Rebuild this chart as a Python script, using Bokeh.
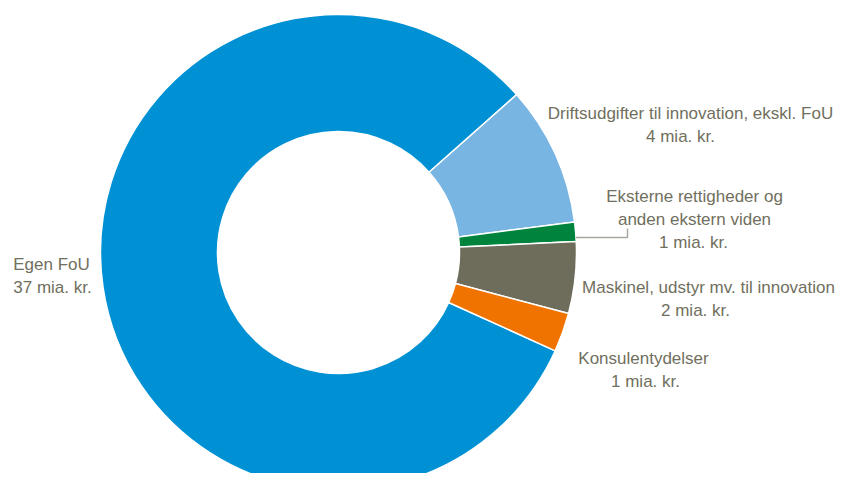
import numpy as np
from bokeh.plotting import figure
from bokeh.models import Range1d, ColumnDataSource
from bokeh.embed import file_html
from bokeh.resources import INLINE
from bokeh.core.properties import value

# ---------------- data ----------------
categories = ["Egen FoU",
              "Driftsudgifter til innovation, ekskl. FoU",
              "Eksterne rettigheder og anden ekstern viden",
              "Maskinel, udstyr mv. til innovation",
              "Konsulentydelser"]
values = [37.0, 4.3, 0.6, 2.2, 1.2]          # mia. kr.
value_labels = ["37 mia. kr.", "4 mia. kr.", "1 mia. kr.", "2 mia. kr.", "1 mia. kr."]
label_lines = [["Egen FoU"],
               ["Driftsudgifter til innovation, ekskl. FoU"],
               ["Eksterne rettigheder og", "anden ekstern viden"],
               ["Maskinel, udstyr mv. til innovation"],
               ["Konsulentydelser"]]
colors = ["#0091D5", "#78B5E3", "#00843D", "#6E6C5B", "#F07300"]

# ---------------- layout (figure px from top-left) ----------------
FW, FH = 837, 473
CX, CY = 338, 252
R_OUT, R_IN = 238, 121
START_DEG = -24.4
# label anchors: (x_center of name lines, baseline of first line, x_center of value line)
label_pos = [(51, 264, 52),
             (690, 113, 680),
             (694, 196, 693),
             (708, 287, 695),
             (643, 358, 645)]
LINE_H = 23
TEXT_COLOR = "#706F5E"
FONT = "Liberation Sans"
FSIZE = "17px"

def fy(y):
    return FH - y

total = float(sum(values))
frac = np.array(values) / total
cum = np.concatenate([[0.0], np.cumsum(frac)])
a0 = np.deg2rad(START_DEG)
starts = a0 - cum[:-1] * 2 * np.pi
ends = a0 - cum[1:] * 2 * np.pi

p = figure(width=FW, height=FH, output_backend="svg", toolbar_location=None,
           x_range=Range1d(0, FW), y_range=Range1d(0, FH),
           min_border=0)
p.axis.visible = False
p.grid.visible = False
p.outline_line_color = None
p.background_fill_color = "white"
p.border_fill_color = "white"

src = ColumnDataSource(dict(start=starts, end=ends, color=colors, cat=categories))
p.annular_wedge(x=CX, y=fy(CY), inner_radius=R_IN, outer_radius=R_OUT,
                start_angle="start", end_angle="end", direction="clock",
                fill_color="color", line_color="white", line_width=1.5, source=src)

# leader line for the small "Eksterne" slice
ly = 237
lx0 = CX + np.sqrt(R_OUT ** 2 - (CY - ly) ** 2)
p.line(x=[lx0, 627, 627], y=[fy(ly), fy(ly), fy(228)], line_color="#A8A8A0", line_width=1.5)

# labels
xs, ys, txt = [], [], []
for i in range(len(categories)):
    xn, yb, xv = label_pos[i]
    for j, line in enumerate(label_lines[i]):
        xs.append(xn); ys.append(fy(yb + j * LINE_H)); txt.append(line)
    xs.append(xv); ys.append(fy(yb + len(label_lines[i]) * LINE_H)); txt.append(value_labels[i])

p.text(x=xs, y=ys, text=txt, text_align="center", text_baseline="alphabetic",
       text_font=value(FONT), text_font_size=FSIZE, text_color=TEXT_COLOR)

open("out.html", "w").write(file_html(p, INLINE))
